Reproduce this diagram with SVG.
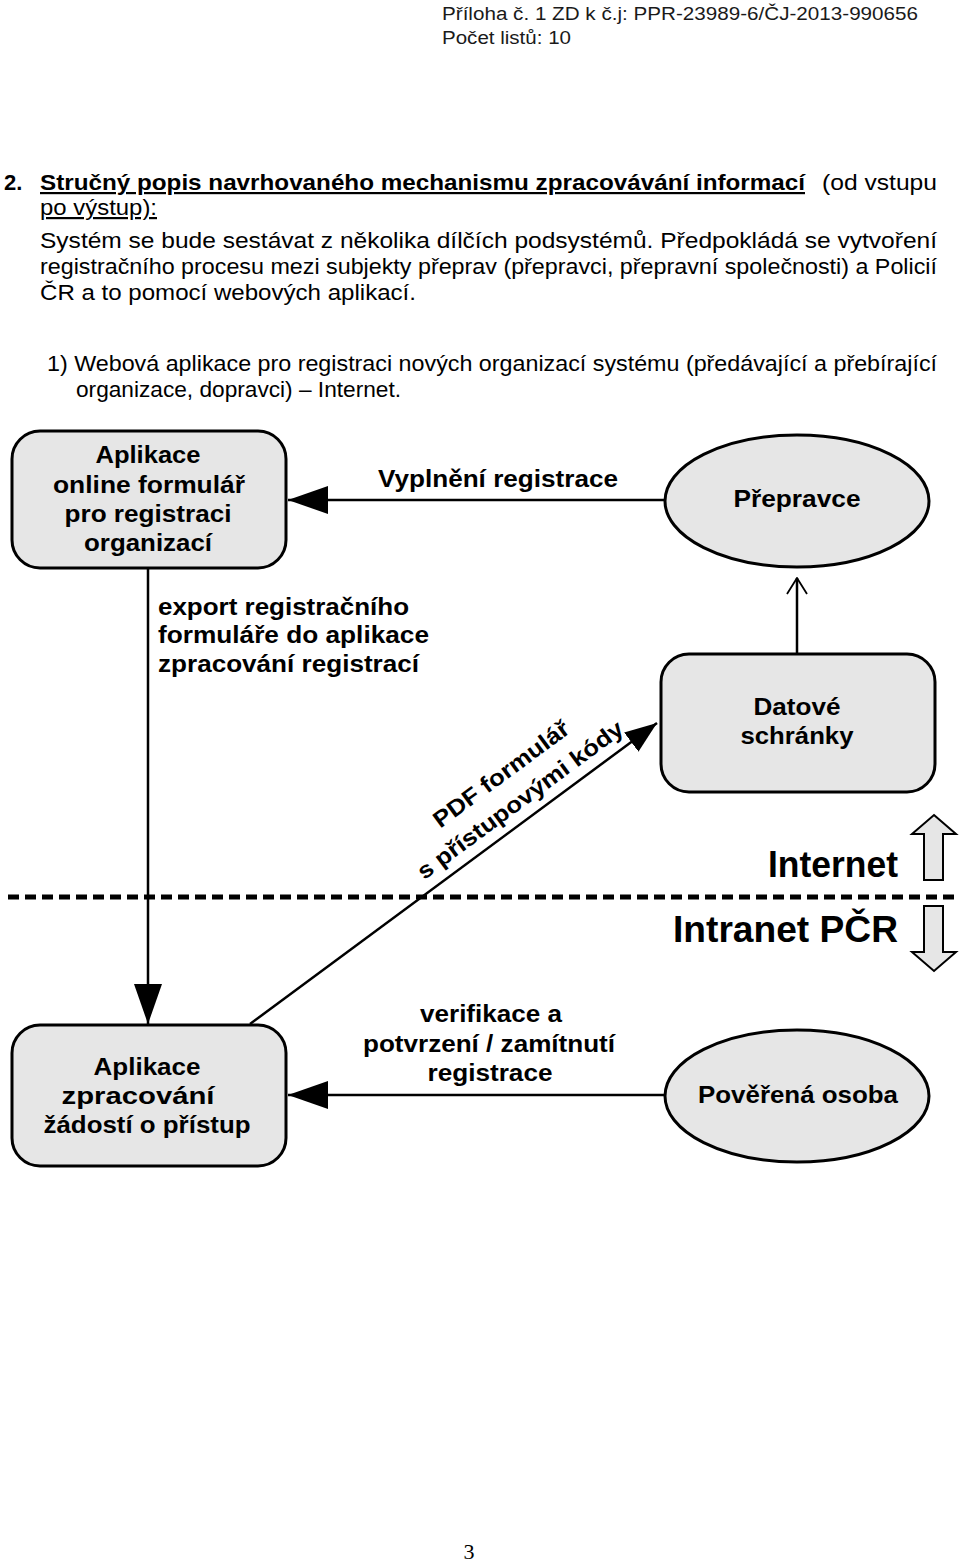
<svg xmlns="http://www.w3.org/2000/svg" width="960" height="1563" viewBox="0 0 960 1563">
<style>
.hdr{font-family:"Liberation Sans",Arial,sans-serif;font-size:18px;fill:#1a1a1a}
.body{font-family:"Liberation Sans",Arial,sans-serif;font-size:22px;fill:#000}
.b{font-weight:bold}
.lbl{font-family:"Liberation Sans",Arial,sans-serif;font-weight:bold;font-size:23px;fill:#000;text-anchor:middle}
.lbll{font-family:"Liberation Sans",Arial,sans-serif;font-weight:bold;font-size:23px;fill:#000}
.big{font-family:"Liberation Sans",Arial,sans-serif;font-weight:bold;font-size:36px;fill:#000;text-anchor:end}
.node{fill:#e6e6e6;stroke:#000;stroke-width:3}
.conn{stroke:#000;stroke-width:2.5;fill:none}
.blk{fill:#e6e6e6;stroke:#000;stroke-width:2}
</style>
<defs>
<marker id="tri" viewBox="0 0 40 28" refX="40" refY="14" markerWidth="40" markerHeight="28" markerUnits="userSpaceOnUse" orient="auto"><path d="M0,0 L40,14 L0,28 z" fill="#000"/></marker>
<marker id="tri2" viewBox="0 0 32 24" refX="32" refY="12" markerWidth="32" markerHeight="24" markerUnits="userSpaceOnUse" orient="auto"><path d="M0,0 L32,12 L0,24 z" fill="#000"/></marker>
<marker id="open" viewBox="0 0 18 24" refX="17" refY="12" markerWidth="18" markerHeight="24" markerUnits="userSpaceOnUse" orient="auto"><path d="M1,2 L17,12 L1,22" fill="none" stroke="#000" stroke-width="1.8"/></marker>
</defs>
<rect width="960" height="1563" fill="#fff"/>

<text class="hdr" x="442" y="20" textLength="476" lengthAdjust="spacingAndGlyphs">Příloha č. 1 ZD k č.j: PPR-23989-6/ČJ-2013-990656</text>
<text class="hdr" x="442" y="44" textLength="129" lengthAdjust="spacingAndGlyphs">Počet listů: 10</text>

<text class="body b" x="4" y="190">2.</text>
<text class="body b" x="40" y="190" text-decoration="underline" textLength="765" lengthAdjust="spacingAndGlyphs">Stručný popis navrhovaného mechanismu zpracovávání informací</text>
<text class="body" x="822" y="190" textLength="115" lengthAdjust="spacingAndGlyphs">(od vstupu</text>
<text class="body" x="40" y="215" text-decoration="underline" textLength="117" lengthAdjust="spacingAndGlyphs">po výstup):</text>
<text class="body" x="40" y="248" textLength="897" lengthAdjust="spacingAndGlyphs">Systém se bude sestávat z několika dílčích podsystémů. Předpokládá se vytvoření</text>
<text class="body" x="40" y="274" textLength="897" lengthAdjust="spacingAndGlyphs">registračního procesu mezi subjekty přeprav (přepravci, přepravní společnosti) a Policií</text>
<text class="body" x="40" y="300" textLength="376" lengthAdjust="spacingAndGlyphs">ČR a to pomocí webových aplikací.</text>
<text class="body" x="47" y="371" textLength="890" lengthAdjust="spacingAndGlyphs">1) Webová aplikace pro registraci nových organizací systému (předávající a přebírající</text>
<text class="body" x="76" y="397" textLength="325" lengthAdjust="spacingAndGlyphs">organizace, dopravci) – Internet.</text>

<g id="connectors">
<line class="conn" x1="665" y1="500" x2="288" y2="500" marker-end="url(#tri)"/>
<line class="conn" x1="797" y1="653" x2="797" y2="578" marker-end="url(#open)"/>
<line class="conn" x1="148" y1="568" x2="148" y2="1024" marker-end="url(#tri)"/>
<line class="conn" x1="250" y1="1024" x2="657" y2="723" marker-end="url(#tri2)"/>
<line class="conn" x1="665" y1="1095" x2="288" y2="1095" marker-end="url(#tri)"/>
<text class="lbl" x="498" y="487" textLength="240" lengthAdjust="spacingAndGlyphs">Vyplnění registrace</text>
<text class="lbll" x="158" y="615" textLength="251" lengthAdjust="spacingAndGlyphs">export registračního</text>
<text class="lbll" x="158" y="643" textLength="271" lengthAdjust="spacingAndGlyphs">formuláře do aplikace</text>
<text class="lbll" x="158" y="672" textLength="261" lengthAdjust="spacingAndGlyphs">zpracování registrací</text>
<g transform="translate(501,774) rotate(-36.4)">
<text class="lbl" x="0" y="8" textLength="163" lengthAdjust="spacingAndGlyphs">PDF formulář</text>
<text class="lbl" x="0" y="40" textLength="250" lengthAdjust="spacingAndGlyphs">s přístupovými kódy</text>
</g>
<text class="lbl" x="491" y="1022" textLength="142" lengthAdjust="spacingAndGlyphs">verifikace a</text>
<text class="lbl" x="489" y="1052" textLength="252" lengthAdjust="spacingAndGlyphs">potvrzení / zamítnutí</text>
<text class="lbl" x="490" y="1081" textLength="125" lengthAdjust="spacingAndGlyphs">registrace</text>
</g>

<g id="boundary">
<line x1="8" y1="897" x2="955" y2="897" stroke="#000" stroke-width="5" stroke-dasharray="11 6"/>
<text class="big" x="898" y="877" textLength="130" lengthAdjust="spacingAndGlyphs">Internet</text>
<text class="big" x="898" y="942" textLength="225" lengthAdjust="spacingAndGlyphs">Intranet PČR</text>
<polygon class="blk" points="934,815 956,834 943,834 943,880 924,880 924,834 912,834"/>
<polygon class="blk" points="924,906 943,906 943,952 956,952 934,971 912,952 924,952"/>
</g>

<g id="node-formular">
<rect class="node" x="12" y="431" width="274" height="137" rx="28"/>
<text class="lbl" x="148" y="463" textLength="105" lengthAdjust="spacingAndGlyphs">Aplikace</text>
<text class="lbl" x="149" y="493" textLength="192" lengthAdjust="spacingAndGlyphs">online formulář</text>
<text class="lbl" x="148" y="522" textLength="167" lengthAdjust="spacingAndGlyphs">pro registraci</text>
<text class="lbl" x="148" y="551" textLength="128" lengthAdjust="spacingAndGlyphs">organizací</text>
</g>

<g id="node-prepravce">
<ellipse class="node" cx="797" cy="501" rx="132" ry="66"/>
<text class="lbl" x="797" y="507" textLength="127" lengthAdjust="spacingAndGlyphs">Přepravce</text>
</g>

<g id="node-datove">
<rect class="node" x="661" y="654" width="274" height="138" rx="28"/>
<text class="lbl" x="797" y="715" textLength="87" lengthAdjust="spacingAndGlyphs">Datové</text>
<text class="lbl" x="797" y="744" textLength="113" lengthAdjust="spacingAndGlyphs">schránky</text>
</g>

<g id="node-zpracovani">
<rect class="node" x="12" y="1025" width="274" height="141" rx="28"/>
<text class="lbl" x="147" y="1075" textLength="107" lengthAdjust="spacingAndGlyphs">Aplikace</text>
<text class="lbl" x="138" y="1104" textLength="153" lengthAdjust="spacingAndGlyphs">zpracování</text>
<text class="lbl" x="147" y="1133" textLength="207" lengthAdjust="spacingAndGlyphs">žádostí o přístup</text>
</g>

<g id="node-poverena">
<ellipse class="node" cx="797" cy="1096" rx="132" ry="66"/>
<text class="lbl" x="798" y="1103" textLength="200" lengthAdjust="spacingAndGlyphs">Pověřená osoba</text>
</g>

<text x="469" y="1559" font-family="Liberation Serif, Times New Roman, serif" font-size="22" text-anchor="middle" fill="#000">3</text>
</svg>
